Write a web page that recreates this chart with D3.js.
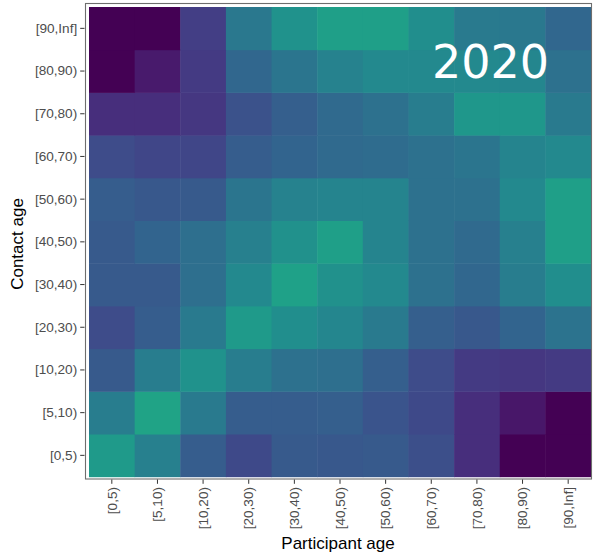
<!DOCTYPE html>
<html>
<head>
<meta charset="utf-8">
<script src="https://cdn.jsdelivr.net/npm/d3@7"></script>
<style>
  body { margin: 0; background: #fff; }
  text { font-family: "Liberation Sans", Arial, sans-serif; }
</style>
</head>
<body>
<div id="chart"></div>
<script>
const ageGroups = ["[0,5)", "[5,10)", "[10,20)", "[20,30)", "[30,40)", "[40,50)", "[50,60)", "[60,70)", "[70,80)", "[80,90)", "[90,Inf]"];
const year = "2020";

// one array per contact age group, values across participant age groups
const contact_0_5 = [0.54, 0.43, 0.29, 0.22, 0.28, 0.27, 0.28, 0.24, 0.13, 0.00, 0.00];
const contact_5_10 = [0.42, 0.58, 0.41, 0.29, 0.29, 0.30, 0.26, 0.22, 0.13, 0.06, 0.00];
const contact_10_20 = [0.28, 0.42, 0.51, 0.42, 0.37, 0.36, 0.30, 0.23, 0.17, 0.16, 0.17];
const contact_20_30 = [0.23, 0.29, 0.41, 0.54, 0.49, 0.46, 0.41, 0.30, 0.27, 0.32, 0.38];
const contact_30_40 = [0.28, 0.28, 0.36, 0.47, 0.57, 0.50, 0.47, 0.37, 0.33, 0.42, 0.49];
const contact_40_50 = [0.28, 0.32, 0.36, 0.43, 0.50, 0.56, 0.45, 0.37, 0.34, 0.43, 0.56];
const contact_50_60 = [0.29, 0.27, 0.28, 0.39, 0.44, 0.45, 0.45, 0.37, 0.37, 0.47, 0.56];
const contact_60_70 = [0.23, 0.21, 0.21, 0.29, 0.32, 0.34, 0.35, 0.37, 0.39, 0.45, 0.47];
const contact_70_80 = [0.13, 0.13, 0.16, 0.25, 0.30, 0.34, 0.37, 0.42, 0.53, 0.53, 0.41];
const contact_80_90 = [0.00, 0.07, 0.17, 0.33, 0.39, 0.44, 0.47, 0.47, 0.47, 0.46, 0.37];
const contact_90_inf = [0.00, 0.00, 0.18, 0.40, 0.51, 0.56, 0.56, 0.49, 0.41, 0.40, 0.33];

const rows = [contact_0_5, contact_5_10, contact_10_20, contact_20_30, contact_30_40, contact_40_50,
  contact_50_60, contact_60_70, contact_70_80, contact_80_90, contact_90_inf];

const cells = [];
rows.forEach((r, i) => r.forEach((v, j) => cells.push({ contact: ageGroups[i], participant: ageGroups[j], value: v })));

const w = 593;
const h = 552;
const svg = d3.select("#chart").append("svg").attr("width", w).attr("height", h);

const x = d3.scaleBand().domain(ageGroups).range([89, 591]);
const y = d3.scaleBand().domain(ageGroups).range([476.7, 7]);
const color = d3.scaleSequential(d3.interpolateViridis).domain([0, 1]);

svg.append("g")
  .selectAll("rect")
  .data(cells)
  .enter()
  .append("rect")
  .attr("x", (d) => x(d.participant))
  .attr("y", (d) => y(d.contact))
  .attr("width", x.bandwidth() + 0.5)
  .attr("height", y.bandwidth() + 0.5)
  .attr("fill", (d) => color(d.value));

svg.append("rect")
  .attr("x", 85.5).attr("y", 3.5)
  .attr("width", 506).attr("height", 475.5)
  .attr("fill", "none").attr("stroke", "#6e6e6e").attr("stroke-width", 1.1);

const yAxis = svg.append("g")
  .attr("transform", "translate(84.5,0)")
  .call(d3.axisLeft(y).tickSize(4.3).tickPadding(3));
yAxis.select(".domain").remove();

const xAxis = svg.append("g")
  .attr("transform", "translate(0,479.5)")
  .call(d3.axisBottom(x).tickSize(4.3).tickPadding(3));
xAxis.select(".domain").remove();
xAxis.selectAll("text")
  .attr("transform", "rotate(-90)")
  .attr("x", -7.5)
  .attr("y", 0)
  .attr("dy", "0.35em")
  .attr("text-anchor", "end");

svg.selectAll(".tick line").attr("stroke", "#333");
svg.selectAll(".tick text")
  .attr("fill", "#4d4d4d")
  .style("font-size", "13.6px")
  .style("font-family", "'Liberation Sans', Arial, sans-serif");

svg.append("text")
  .attr("x", 338).attr("y", 549)
  .attr("text-anchor", "middle")
  .style("font-size", "17px")
  .text("Participant age");

svg.append("text")
  .attr("transform", "translate(22.5,244) rotate(-90)")
  .attr("text-anchor", "middle")
  .style("font-size", "17px")
  .text("Contact age");

svg.append("text")
  .attr("x", 490.5).attr("y", 78.3)
  .attr("text-anchor", "middle")
  .attr("fill", "#fff")
  .style("font-family", "'DejaVu Sans', sans-serif")
  .style("font-size", "46px")
  .text(year);
</script>
</body>
</html>
